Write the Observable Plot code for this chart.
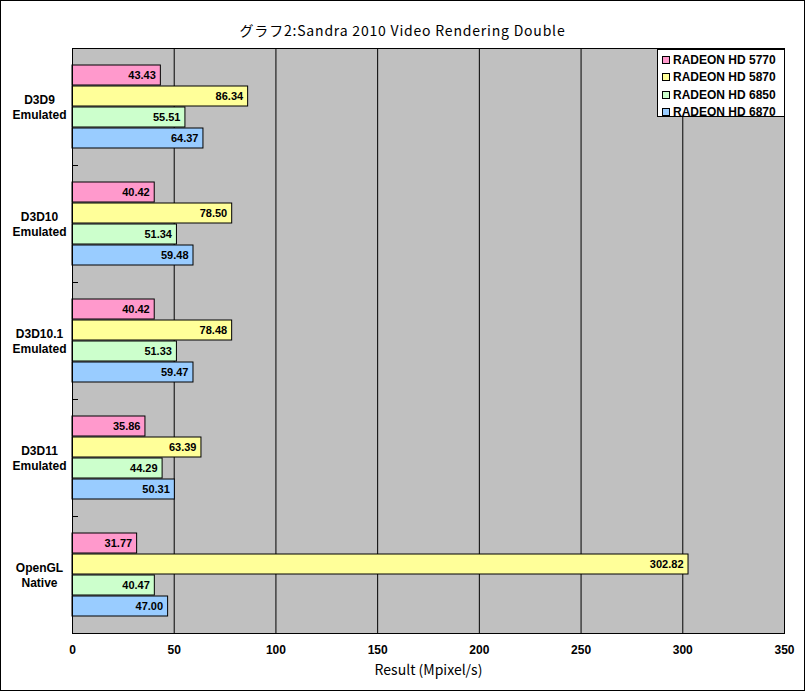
<!DOCTYPE html>
<html>
<head>
<meta charset="utf-8">
<script src="https://cdn.jsdelivr.net/npm/d3@7"></script>
<script src="https://cdn.jsdelivr.net/npm/@observablehq/plot@0.6"></script>
<style>
  html, body { margin: 0; padding: 0; background: #fff; }
  #wrap { position: relative; width: 805px; height: 691px; overflow: hidden; }
  #border { position: absolute; left: 0; top: 0; width: 805px; height: 691px; box-sizing: border-box; border: 1px solid #000; pointer-events: none; }
  #title { position: absolute; left: 0; top: 20px; width: 805px; text-align: center; font-family: "Noto Sans CJK JP", sans-serif; font-size: 14px; letter-spacing: 0.8px; color: #000; }
  #legend { position: absolute; left: 657px; top: 49px; width: 128px; height: 68px; box-sizing: border-box; border: 1px solid #000; background: #fff; padding: 1px 0 0 4px; }
  .row { height: 17.5px; display: flex; align-items: center; font-family: "Liberation Sans", Arial, sans-serif; font-weight: bold; font-size: 12px; color: #000; }
  .sw { width: 6px; height: 6px; border: 1px solid #000; margin-right: 3px; }
  svg { position: absolute; left: 0; top: 0; }
</style>
</head>
<body>
<div id="wrap">
  <div id="title"></div>
  <div id="chart"></div>
  <div id="legend"></div>
  <div id="border"></div>
</div>
<script>
const title = "グラフ2:Sandra 2010 Video Rendering Double";
const xLabel = "Result (Mpixel/s)";
const categories = ["D3D9\nEmulated", "D3D10\nEmulated", "D3D10.1\nEmulated", "D3D11\nEmulated", "OpenGL\nNative"];
const series = ["RADEON HD 5770", "RADEON HD 5870", "RADEON HD 6850", "RADEON HD 6870"];
const colors = ["#ff99cc", "#ffff99", "#ccffcc", "#99ccff"];
const hd5770 = [43.43, 40.42, 40.42, 35.86, 31.77];
const hd5870 = [86.34, 78.50, 78.48, 63.39, 302.82];
const hd6850 = [55.51, 51.34, 51.33, 44.29, 40.47];
const hd6870 = [64.37, 59.48, 59.47, 50.31, 47.00];
const xTicks = [0, 50, 100, 150, 200, 250, 300, 350];

const values = [hd5770, hd5870, hd6850, hd6870];
const data = categories.flatMap((c, i) => series.map((s, j) => ({category: c, series: s, value: values[j][i]})));

document.getElementById("title").textContent = title;
const legend = document.getElementById("legend");
series.forEach((s, j) => {
  const row = document.createElement("div");
  row.className = "row";
  const sw = document.createElement("div");
  sw.className = "sw";
  sw.style.background = colors[j];
  row.appendChild(sw);
  row.appendChild(document.createTextNode(s));
  legend.appendChild(row);
});

const chart = Plot.plot({
  width: 805,
  height: 691,
  marginLeft: 72,
  marginRight: 21,
  marginTop: 48,
  marginBottom: 58,
  style: {fontFamily: "'Liberation Sans', Arial, sans-serif", fontSize: "12px", background: "transparent", color: "#000"},
  x: {domain: [0, 350]},
  y: {domain: series, paddingInner: 0.07, paddingOuter: 0.76, axis: null},
  fy: {domain: categories, padding: 0, axis: null},
  color: {domain: series, range: colors},
  marks: [
    Plot.frame({facet: "super", fill: "#c0c0c0", stroke: null}),
    Plot.ruleX(xTicks.slice(1, -1), {stroke: "#000", strokeWidth: 1}),
    Plot.frame({anchor: "top", insetRight: 707, stroke: "#000"}),
    Plot.barX(data, {x: "value", y: "series", fy: "category", fill: "series", stroke: "#000", strokeWidth: 1}),
    Plot.text(data, {x: "value", y: "series", fy: "category", text: d => d.value.toFixed(2), textAnchor: "end", dx: -5, fontWeight: "bold", fontSize: 11, fill: "#000"}),
    Plot.text(categories, {fy: d => d, text: d => d, frameAnchor: "left", dx: -33, textAnchor: "middle", fontWeight: "bold", fontSize: 12, lineHeight: 1.25, fill: "#000"}),
    Plot.axisX(xTicks, {tickSize: 0, tickPadding: 12, fontWeight: "bold", fontSize: 12, label: null}),
    Plot.text([xLabel], {facet: "super", frameAnchor: "bottom", dy: 41, fontSize: 14, fill: "#000", fontFamily: "'Noto Sans CJK JP', sans-serif"}),
    Plot.frame({facet: "super", stroke: "#000", strokeWidth: 1})
  ]
});
document.getElementById("chart").appendChild(chart);
</script>
</body>
</html>
